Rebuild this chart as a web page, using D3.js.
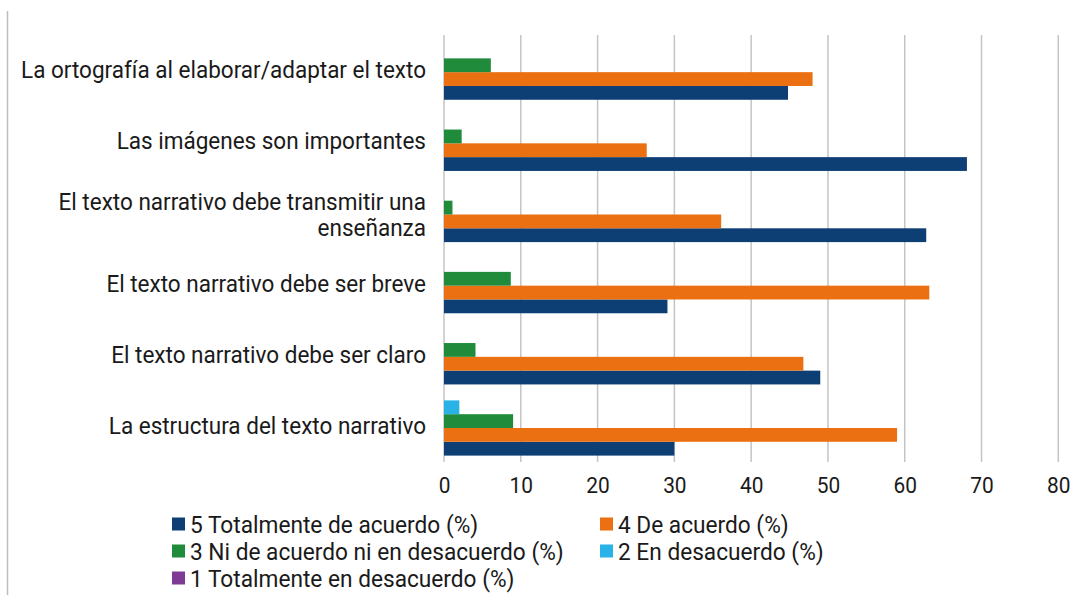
<!DOCTYPE html>
<html>
<head>
<meta charset="utf-8">
<script src="https://cdn.jsdelivr.net/npm/d3@7"></script>
<style>
  body { margin: 0; background: #fff; }
  text { font-family: Roboto, sans-serif; fill: #1a1a1a; }
</style>
</head>
<body>
<svg id="barChart"></svg>
<script>
const categories = [
  'La ortografía al elaborar/adaptar el texto',
  'Las imágenes son importantes',
  'El texto narrativo debe transmitir una\nenseñanza',
  'El texto narrativo debe ser breve',
  'El texto narrativo debe ser claro',
  'La estructura del texto narrativo'
];
const seriesNames = [
  '5 Totalmente de acuerdo (%)',
  '4 De acuerdo (%)',
  '3 Ni de acuerdo ni en desacuerdo (%)',
  '2 En desacuerdo (%)',
  '1 Totalmente en desacuerdo (%)'
];
const totalmenteAcuerdo = [44.8, 68.1, 62.8, 29.1, 49.0, 30.0];
const deAcuerdo = [48.0, 26.4, 36.1, 63.2, 46.8, 59.0];
const niAcuerdo = [6.1, 2.3, 1.1, 8.7, 4.1, 9.0];
const enDesacuerdo = [0, 0, 0, 0, 0, 2.0];
const totalmenteDesacuerdo = [0, 0, 0, 0, 0, 0];
const xTicks = [0, 10, 20, 30, 40, 50, 60, 70, 80];

const seriesValues = [totalmenteAcuerdo, deAcuerdo, niAcuerdo, enDesacuerdo, totalmenteDesacuerdo];
const colors = ['#0d3e74', '#ea7012', '#1f8b3b', '#29b2e6', '#7e3b96'];

const svgWidth = 1083;
const svgHeight = 595;
const plot = { left: 444, right: 1058.3, top: 35, bottom: 462 };
// horizontal scale of the text, to match the source widths
const squeezeLabel = 0.958;
const squeezeTick = 0.95;
const squeezeLegend = 0.965;

const rows = [];
categories.forEach((c, i) => {
  seriesNames.forEach((s, j) => rows.push({ cat: c, series: s, idx: j, value: seriesValues[j][i] }));
});

const svg = d3.select('#barChart')
  .attr('width', svgWidth)
  .attr('height', svgHeight);

// thin frame line on the left
svg.append('line')
  .attr('x1', 7.5).attr('x2', 7.5)
  .attr('y1', 11).attr('y2', svgHeight)
  .attr('stroke', '#bdbdbd').attr('stroke-width', 1.5);

const xScale = d3.scaleLinear()
  .domain([0, 80])
  .range([plot.left, plot.right]);

const yScale = d3.scaleBand()
  .domain(categories)
  .range([plot.top, plot.bottom]);

const bw = yScale.bandwidth();
const barH = 13.8;
const ySeries = d3.scaleBand()
  .domain(seriesNames)
  .range([bw - 6.4, bw - 6.4 - barH * seriesNames.length]);

// gridlines
svg.append('g')
  .selectAll('line')
  .data(xTicks)
  .enter()
  .append('line')
    .attr('x1', d => xScale(d)).attr('x2', d => xScale(d))
    .attr('y1', plot.top).attr('y2', plot.bottom)
    .attr('stroke', '#c4c4c4').attr('stroke-width', 1.5);

// bars
svg.append('g')
  .selectAll('.bar')
  .data(rows.filter(d => d.value > 0))
  .enter()
  .append('rect')
    .attr('class', 'bar')
    .attr('x', xScale(0))
    .attr('y', d => yScale(d.cat) + ySeries(d.series))
    .attr('width', d => xScale(d.value) - xScale(0))
    .attr('height', ySeries.bandwidth())
    .attr('fill', d => colors[d.idx]);

// x axis
const xAxis = d3.axisBottom(xScale).tickValues(xTicks).tickSize(0).tickPadding(0);
const gx = svg.append('g')
  .attr('transform', `translate(0, ${plot.bottom})`)
  .call(xAxis);
gx.select('.domain').remove();
gx.selectAll('text')
  .attr('y', 31.5)
  .attr('dy', 0)
  .attr('transform', `scale(${squeezeTick}, 1)`)
  .attr('x', 0)
  .style('font-size', '22px')
  .style('font-family', 'Roboto, sans-serif')
  .attr('fill', '#1a1a1a');

// category labels
const labels = svg.append('g')
  .selectAll('.cat')
  .data(categories)
  .enter()
  .append('text')
    .attr('class', 'cat')
    .attr('text-anchor', 'end')
    .style('font-size', '23.5px')
    .attr('transform', d => {
      const n = d.split('\n').length;
      const y = yScale(d) + bw / 2 + 7.5 - (n - 1) * 13 + (n > 1 ? 3 : 0);
      return `translate(426, ${y}) scale(${squeezeLabel}, 1)`;
    });
labels.selectAll('tspan')
  .data(d => d.split('\n'))
  .enter()
  .append('tspan')
    .attr('x', 0)
    .attr('dy', (d, i) => i === 0 ? 0 : 26)
    .text(d => d);

// legend
const legend = svg.append('g')
  .selectAll('.legend')
  .data(seriesNames)
  .enter()
  .append('g')
    .attr('class', 'legend')
    .attr('transform', (d, i) => `translate(${i % 2 === 0 ? 172 : 600}, ${524 + Math.floor(i / 2) * 27})`);
legend.append('rect')
  .attr('x', 0).attr('y', -6.5)
  .attr('width', 13).attr('height', 13)
  .attr('fill', (d, i) => colors[i]);
legend.append('text')
  .attr('transform', `translate(18, 8.5) scale(${squeezeLegend}, 1)`)
  .style('font-size', '23.5px')
  .text(d => d);
</script>
</body>
</html>
